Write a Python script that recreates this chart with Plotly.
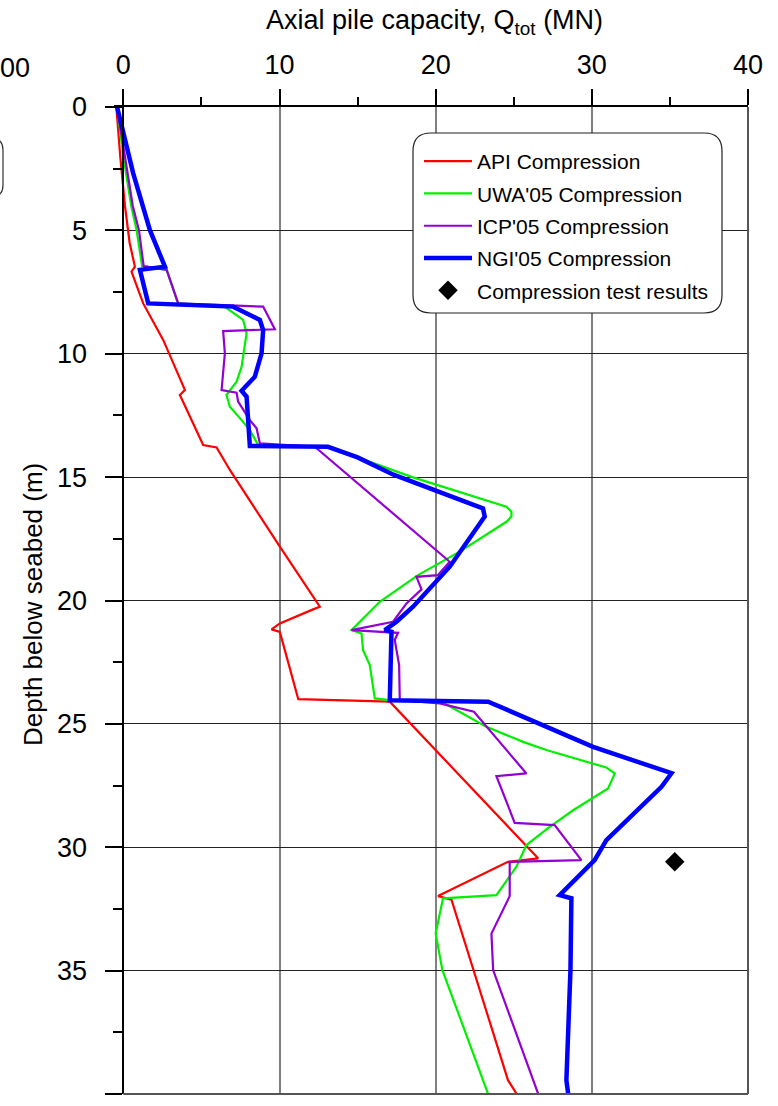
import plotly.graph_objects as go

# ---- capacity profiles: axial capacity Q (MN) against depth (m) ----
api_q = [-0.45, -0.2, 0.1, 0.4, 0.74, 0.52, 1.27, 2.55, 3.62, 3.94, 3.62, 5.11, 5.97, 6.82,
         10.02, 12.58, 12.15, 11.09, 10.02, 9.49, 10.02, 10.34, 11.2, 17.06, 26.56, 24.63,
         20.15, 21.01, 24.63, 25.17]
api_d = [0, 2, 4, 5.5, 6.47, 6.67, 7.96, 9.44, 11.0, 11.47, 11.67, 13.7, 13.8, 14.71,
         17.82, 20.25, 20.36, 20.66, 20.93, 21.17, 21.27, 22.01, 24.0, 24.1, 30.45, 30.59,
         31.98, 32.12, 39.44, 39.98]

uwa_q = [-0.4, 0.0, 0.5, 0.85, 1.2, 2.77, 3.5, 6.5, 7.67, 7.89, 7.57, 7.25, 6.6, 6.82, 7.57,
         8.1, 8.63, 13.1, 18.5, 22.0, 24.53, 24.85, 24.85, 24.53, 21.54, 18.87, 16.42, 14.61,
         15.25, 15.35, 15.78, 16.1, 17.06, 20.37, 23.25, 25.6, 27.09, 30.93, 31.47, 31.04,
         28.8, 27.3, 25.81, 25.17, 23.89, 20.47, 20.0, 20.43, 23.35]
uwa_d = [0, 2, 4, 5, 6.45, 6.6, 7.96, 8.1, 8.63, 9.17, 10.53, 11.13, 11.67, 12.15, 12.69,
         13.09, 13.7, 13.77, 15.0, 15.7, 16.2, 16.4, 16.6, 16.81, 18.02, 18.97, 20.05, 21.2,
         21.34, 22.01, 22.62, 23.97, 24.04, 24.1, 25.12, 25.73, 26.06, 26.77, 27.01, 27.62,
         28.5, 29.17, 29.91, 30.79, 31.94, 32.07, 33.5, 34.98, 39.98]

icp_q = [-0.4, 0.1, 0.6, 1.0, 1.3, 2.77, 3.51, 8.95, 9.7, 6.39, 6.5, 6.29, 7.25, 7.35, 8.1,
         8.53, 8.74, 12.26, 20.9, 20.15, 18.77, 19.09, 18.13, 17.27, 14.61, 17.59, 17.38,
         17.49, 17.66, 17.7, 20.26, 22.45, 25.81, 23.89, 25.06, 27.62, 29.33, 24.74, 24.74,
         23.57, 23.68, 26.56]
icp_d = [0, 2, 4, 5, 6.45, 6.6, 7.96, 8.09, 9.01, 9.08, 9.98, 11.47, 11.58, 11.94, 12.69,
         13.02, 13.63, 13.77, 18.43, 18.97, 19.04, 19.55, 20.12, 20.86, 21.2, 21.31, 21.6,
         22.01, 22.62, 24.04, 24.17, 24.51, 27.01, 27.12, 29.01, 29.1, 30.52, 30.59, 31.98,
         33.5, 34.98, 39.98]

ngi_q = [-0.4, 0.1, 0.63, 1.7, 2.66, 1.06, 1.59, 7.03, 8.74, 8.95, 8.85, 8.42, 7.57, 7.89,
         8.1, 13.1, 15.0, 17.3, 20.0, 23.03, 23.14, 20.9, 18.55, 17.49, 16.74, 17.17, 17.06,
         23.36, 30.08, 35.1, 34.46, 32.21, 30.93, 30.18, 27.94, 28.69, 28.63, 28.37, 28.48]
ngi_d = [0, 1.34, 2.69, 4.99, 6.47, 6.6, 7.96, 8.09, 8.63, 9.04, 9.98, 10.93, 11.5, 11.74,
         13.74, 13.77, 14.2, 14.9, 15.55, 16.27, 16.6, 18.63, 20.25, 20.86, 21.2, 21.27, 24.04,
         24.1, 25.93, 27.0, 27.55, 28.9, 29.71, 30.52, 31.94, 32.07, 34.98, 39.44, 39.97]

test_q = [35.31]
test_d = [30.59]

x_ticks = [0, 10, 20, 30, 40]
y_ticks = [0, 5, 10, 15, 20, 25, 30, 35, 40]

FONT = "Liberation Sans, Arial, sans-serif"
W, H = 778, 1106
ML, MR, MT, MB = 114, 30, 107, 12
X_RANGE = [-0.6, 40]


def px_to_paper(px, py):
    """Convert page pixels to paper coordinates of the plotting area."""
    return ((px - ML) / (W - ML - MR), 1 - (py - MT) / (H - MT - MB))


def rounded_path(x0, y0, x1, y1, r, sides="all"):
    """SVG path (paper coords) of a rounded rectangle given in page pixels."""
    pts = {
        "a": (x0 + r, y0), "b": (x1 - r, y0), "c": (x1, y0), "d": (x1, y0 + r),
        "e": (x1, y1 - r), "f": (x1, y1), "g": (x1 - r, y1), "h": (x0 + r, y1),
        "i": (x0, y1), "j": (x0, y1 - r), "k": (x0, y0 + r), "l": (x0, y0),
    }
    P = {k: "{:.5f},{:.5f}".format(*px_to_paper(*v)) for k, v in pts.items()}
    if sides == "right":
        return "M{a} L{b} Q{c} {d} L{e} Q{f} {g} L{h}".format(**P)
    return ("M{a} L{b} Q{c} {d} L{e} Q{f} {g} L{h} Q{i} {j} L{k} Q{l} {a} Z").format(**P)


fig = go.Figure()

series = [
    ("API Compression", api_q, api_d, "#FF0000", 2.2),
    ("UWA'05 Compression", uwa_q, uwa_d, "#00F000", 2.2),
    ("ICP'05 Compression", icp_q, icp_d, "#9400D3", 2.2),
    ("NGI'05 Compression", ngi_q, ngi_d, "#0000FF", 4.5),
]
for name, q, d, color, width in series:
    fig.add_trace(go.Scatter(x=q, y=d, mode="lines", name=name, legendgroup=name,
                             line=dict(color=color, width=width)))

fig.add_trace(go.Scatter(x=test_q, y=test_d, mode="markers", name="Compression test results",
                         legendgroup="test",
                         marker=dict(symbol="diamond", size=15, color="black")))

# rounded legend frame
fig.add_shape(type="path", path=rounded_path(413, 133, 722, 313, 18), xref="paper", yref="paper",
              line=dict(color="#222", width=1.2), fillcolor="white", layer="above")

# edge of the neighbouring panel's legend frame
fig.add_shape(type="path", path=rounded_path(-40, 138, 3, 197, 12, sides="right"),
              xref="paper", yref="paper", line=dict(color="#333", width=1.2))

# right and bottom frame lines
x0p = 0.6 / 40.6
fig.add_shape(type="line", xref="paper", yref="paper", x0=1, x1=1, y0=0, y1=1,
              line=dict(color="#555", width=2))
fig.add_shape(type="line", xref="paper", yref="paper", x0=x0p, x1=1, y0=0, y1=0,
              line=dict(color="#555", width=2))

# axis titles
fig.add_annotation(text="Axial pile capacity, Q<sub>tot</sub> (MN)", xref="paper", yref="paper",
                   x=px_to_paper(434, 0)[0], y=px_to_paper(0, 22)[1], showarrow=False,
                   xanchor="center", yanchor="middle", font=dict(family=FONT, size=27, color="black"))
fig.add_annotation(text="Depth below seabed (m)", xref="paper", yref="paper", textangle=-90,
                   x=px_to_paper(33, 0)[0], y=px_to_paper(0, 605)[1], showarrow=False,
                   xanchor="center", yanchor="middle", font=dict(family=FONT, size=26, color="black"))

# tick label of the neighbouring panel at the left page edge
fig.add_annotation(text="00", xref="paper", yref="paper",
                   x=px_to_paper(-2, 0)[0], y=px_to_paper(0, 68)[1], showarrow=False,
                   xanchor="left", yanchor="middle", font=dict(family=FONT, size=27, color="black"))

fig.update_layout(
    width=W, height=H,
    margin=dict(l=ML, r=MR, t=MT, b=MB, pad=0),
    paper_bgcolor="white", plot_bgcolor="white",
    font=dict(family=FONT, color="black"),
    showlegend=True,
    legend=dict(x=px_to_paper(419, 0)[0], y=px_to_paper(0, 141)[1], xanchor="left", yanchor="top",
                bgcolor="rgba(0,0,0,0)", borderwidth=0, itemwidth=48,
                font=dict(family=FONT, size=21, color="black"), tracegroupgap=2),
    xaxis=dict(side="top", range=X_RANGE, tickvals=x_ticks, ticks="outside", ticklen=16,
               tickwidth=2, tickcolor="black", showline=True, linecolor="black", linewidth=2,
               showgrid=True, gridcolor="#808080", gridwidth=1.5, zeroline=False,
               tickfont=dict(family=FONT, size=27), ticklabelstandoff=4,
               minor=dict(tickvals=[5, 15, 25, 35], ticks="outside", ticklen=8, tickwidth=2,
                          tickcolor="black", showgrid=False)),
    yaxis=dict(range=[40, 0], tickvals=y_ticks, ticks="outside", ticklen=17, tickwidth=2,
               tickcolor="black", showline=True, linecolor="black", linewidth=2,
               anchor="free", position=x0p,
               showgrid=True, gridcolor="#222", gridwidth=1, zeroline=False,
               tickfont=dict(family=FONT, size=27), ticklabelstandoff=13,
               minor=dict(tickvals=[2.5 + 5 * i for i in range(8)], ticks="outside", ticklen=9,
                          tickwidth=2, tickcolor="black", showgrid=False)),
)

fig.write_html("out.html")
